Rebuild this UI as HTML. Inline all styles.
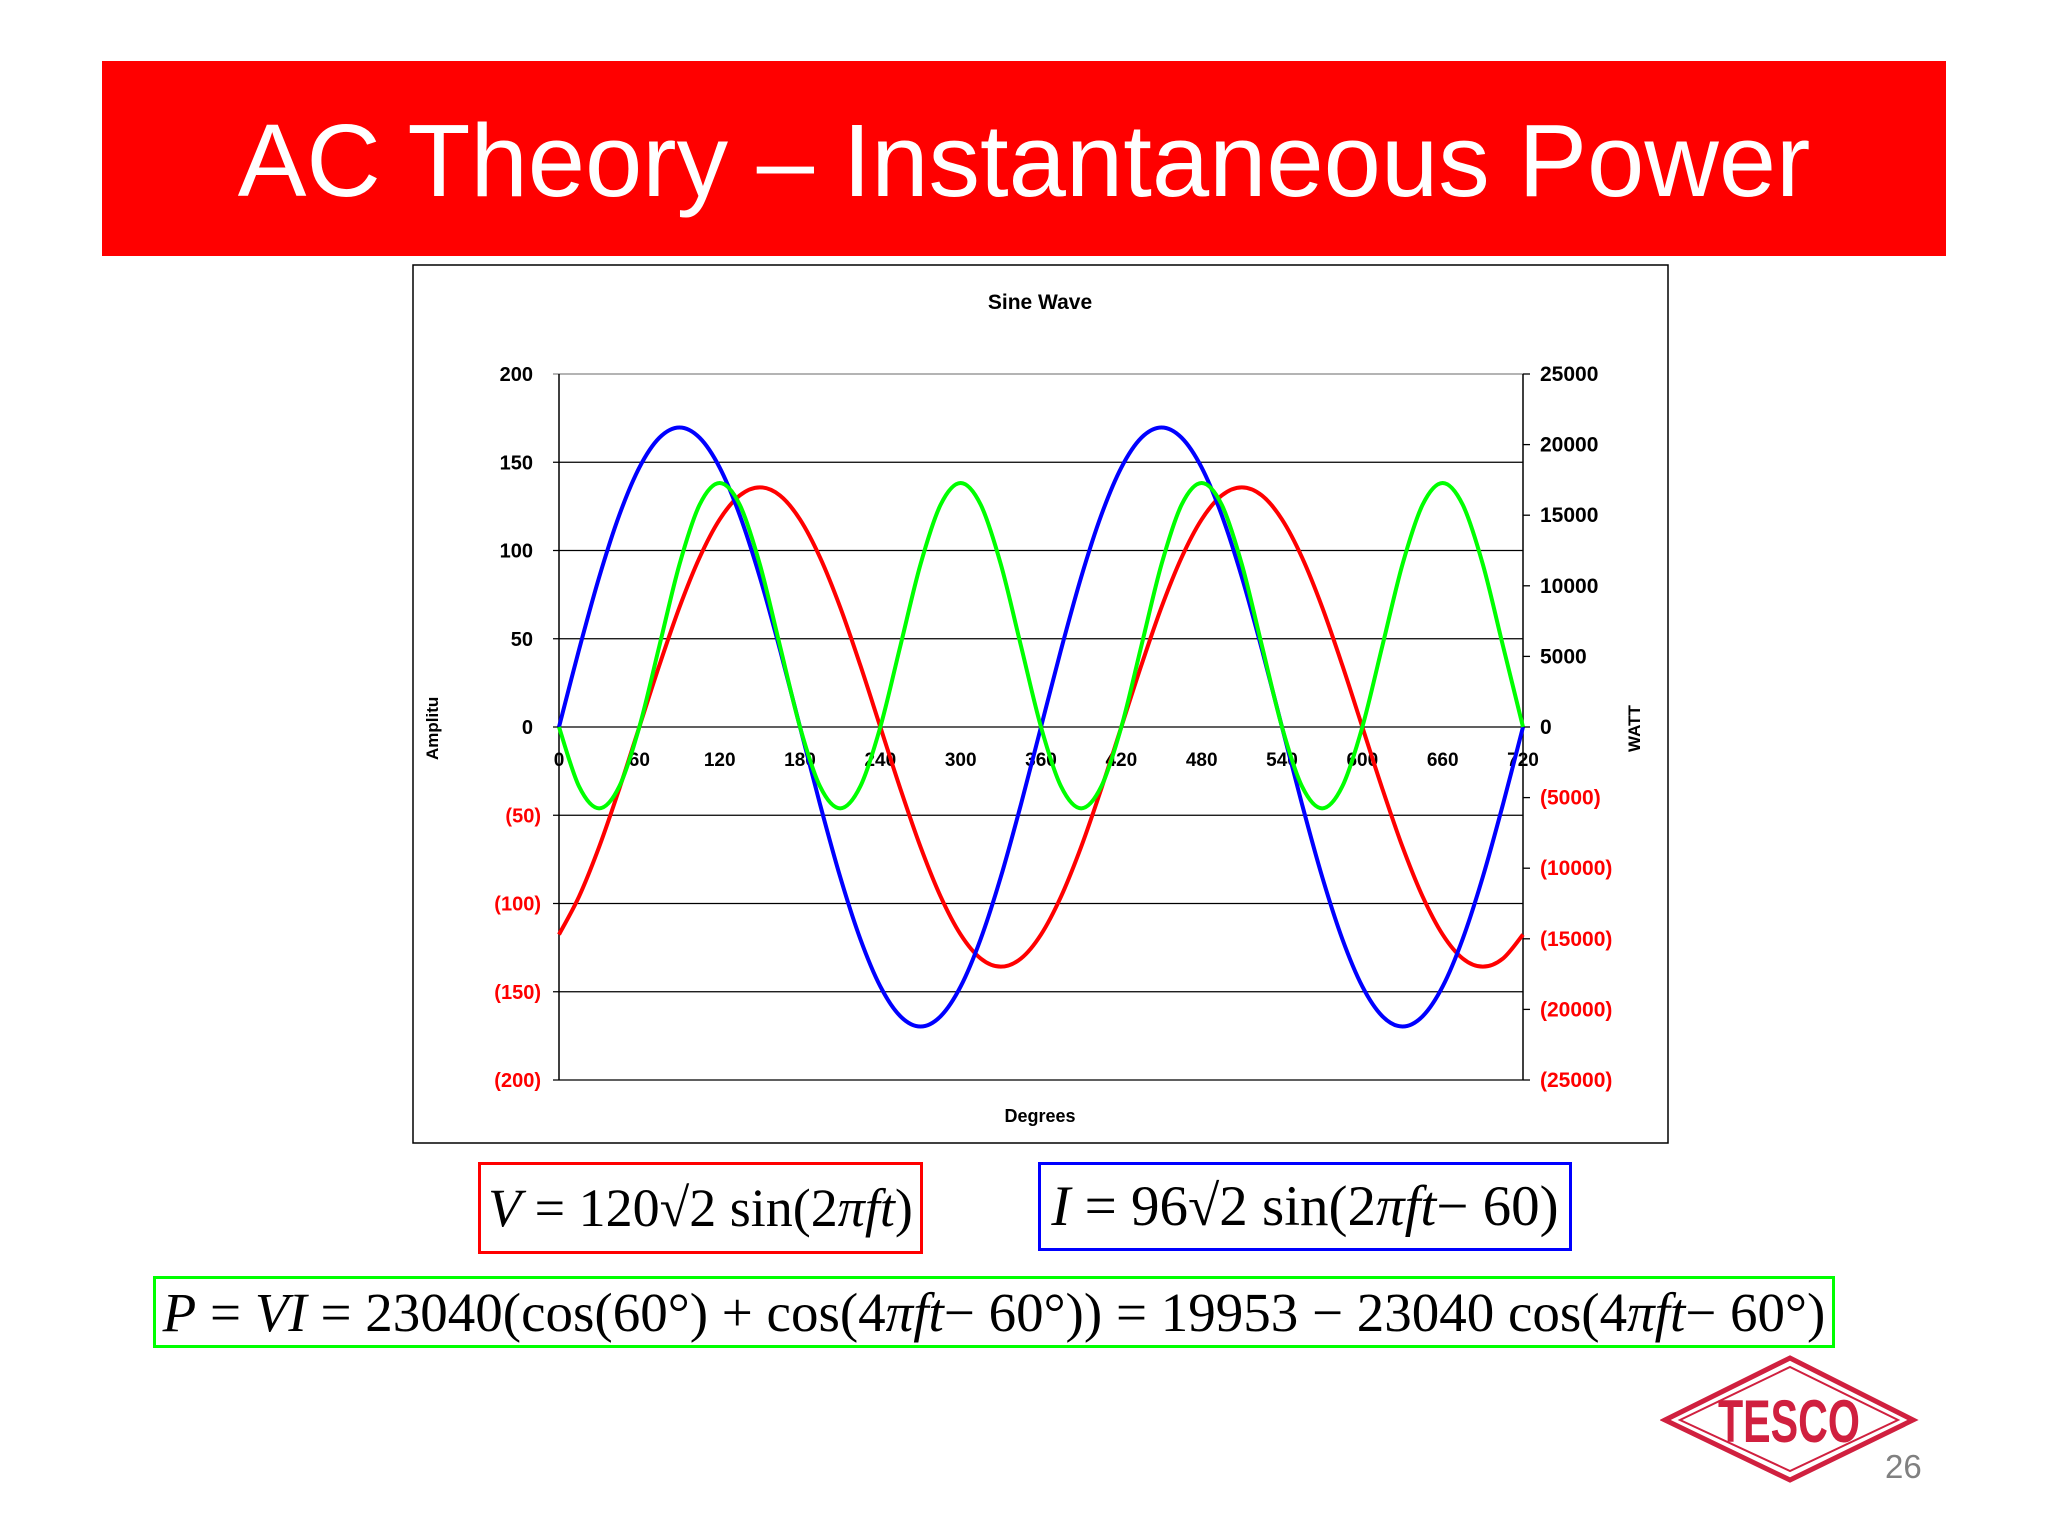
<!DOCTYPE html>
<html><head><meta charset="utf-8"><style>
body{margin:0;width:2048px;height:1536px;background:#fff;position:relative;overflow:hidden;font-family:"Liberation Sans",sans-serif}
.abs{position:absolute}
.eq{position:absolute;font-family:"Liberation Serif",serif;font-size:54px;white-space:nowrap;box-sizing:border-box;display:flex;align-items:center;justify-content:center}
</style></head><body>
<div class="abs" style="left:102px;top:61px;width:1844px;height:195px;background:#ff0000"></div>
<div class="abs" style="left:102px;top:63px;width:1844px;height:195px;line-height:195px;text-align:center;color:#fff;font-size:103px">AC Theory – Instantaneous Power</div>
<svg class="abs" style="left:0;top:0" width="2048" height="1536">
<rect x="413" y="265" width="1255" height="878" fill="#fff" stroke="#000" stroke-width="1.5"/>
<text x="1040" y="309" text-anchor="middle" font-weight="bold" font-size="21">Sine Wave</text>
<g id="grid"></g><g id="axes"></g><g id="series"></g>
<text x="1040" y="1122" text-anchor="middle" font-weight="bold" font-size="18">Degrees</text>
<text transform="translate(438,760) rotate(-90)" font-weight="bold" font-size="17">Amplitu</text>
<text transform="translate(1640,752) rotate(-90)" font-weight="bold" font-size="17">WATT</text>
</svg>
<div class="eq" style="left:478px;top:1162px;width:445px;height:92px;border:3px solid #ff0000"><i>V</i>&nbsp;= 120√2 sin(2<i>πft</i>)</div>
<div class="eq" style="left:1038px;top:1162px;width:534px;height:89px;border:3px solid #0000ff;font-size:57px"><i>I</i>&nbsp;= 96√2 sin(2<i>πft</i> − 60)</div>
<div class="eq" style="left:153px;top:1276px;width:1682px;height:72px;border:3px solid #00ff00;font-size:55px"><i>P</i>&nbsp;=&nbsp;<i>VI</i>&nbsp;= 23040(cos(60°) + cos(4<i>πft</i> − 60°)) = 19953 − 23040 cos(4<i>πft</i> − 60°)</div>
<svg class="abs" style="left:1660px;top:1352px" width="260" height="135">
<polygon points="5,68 130,6 253,68 130,128" fill="none" stroke="#d0203f" stroke-width="5"/>
<polygon points="20,68 130,15 238,68 130,119" fill="none" stroke="#d0203f" stroke-width="2"/>
<text x="58" y="90" font-size="60" font-weight="bold" fill="#d0203f" textLength="142" lengthAdjust="spacingAndGlyphs">TESCO</text>
</svg>
<div class="abs" style="left:1885px;top:1448px;font-size:33px;color:#808080">26</div>
<script>
const degrees=[0,15,30,45,60,75,90,105,120,135,150,165,180,195,210,225,240,255,270,285,300,315,330,345,360,375,390,405,420,435,450,465,480,495,510,525,540,555,570,585,600,615,630,645,660,675,690,705,720];
const voltage=[0,43.9,84.9,120,147,163.9,169.7,163.9,147,120,84.9,43.9,0,-43.9,-84.9,-120,-147,-163.9,-169.7,-163.9,-147,-120,-84.9,-43.9,0,43.9,84.9,120,147,163.9,169.7,163.9,147,120,84.9,43.9,0,-43.9,-84.9,-120,-147,-163.9,-169.7,-163.9,-147,-120,-84.9,-43.9,0];
const current=[-117.6,-96,-67.9,-35.1,0,35.1,67.9,96,117.6,131.2,135.8,131.2,117.6,96,67.9,35.1,0,-35.1,-67.9,-96,-117.6,-131.2,-135.8,-131.2,-117.6,-96,-67.9,-35.1,0,35.1,67.9,96,117.6,131.2,135.8,131.2,117.6,96,67.9,35.1,0,-35.1,-67.9,-96,-117.6,-131.2,-135.8,-131.2,-117.6];
const power=[0,-4217,-5760,-4217,0,5760,11520,15737,17280,15737,11520,5760,0,-4217,-5760,-4217,0,5760,11520,15737,17280,15737,11520,5760,0,-4217,-5760,-4217,0,5760,11520,15737,17280,15737,11520,5760,0,-4217,-5760,-4217,0,5760,11520,15737,17280,15737,11520,5760,0];
const leftTicks=[200,150,100,50,0,-50,-100,-150,-200];
const rightTicks=[25000,20000,15000,10000,5000,0,-5000,-10000,-15000,-20000,-25000];
const xTicks=[0,60,120,180,240,300,360,420,480,540,600,660,720];
const X0=559,X1=1523,Y0=374,Y1=1080;
const xs=d=>X0+(d/720)*(X1-X0);
const yl=v=>Y0+(200-v)/400*(Y1-Y0);
const yr=v=>Y0+(25000-v)/50000*(Y1-Y0);
const NS='http://www.w3.org/2000/svg';
function mk(tag,attrs,parent,txt){const e=document.createElementNS(NS,tag);for(const k in attrs)e.setAttribute(k,attrs[k]);if(txt!==undefined)e.textContent=txt;document.getElementById(parent).appendChild(e);return e;}
const fmt=v=>v<0?'('+(-v)+')':String(v);
leftTicks.forEach(v=>{
  const g=mk('line',{x1:X0-6,x2:X1,y1:yl(v),y2:yl(v),stroke:v===200?'#888':'#000','stroke-width':1.3},'grid');
  
  
  const t=mk('text',{x:v<0?541:533,y:yl(v)+7,'text-anchor':'end','font-weight':'bold','font-size':20,fill:v<0?'#ff0000':'#000'},'axes',fmt(v));
  
  
});
rightTicks.forEach(v=>{
  const l=mk('line',{x1:X1,x2:X1+7,y1:yr(v),y2:yr(v),stroke:'#000','stroke-width':1.3},'axes');
  
  
  const t=mk('text',{x:1540,y:yr(v)+7,'font-weight':'bold','font-size':21,fill:v<0?'#ff0000':'#000'},'axes',fmt(v));
  
  
});
xTicks.forEach(d=>{
  const t=mk('text',{x:xs(d),y:766,'text-anchor':'middle','font-weight':'bold','font-size':19},'axes',String(d));
  
  
});
const la=mk('line',{x1:X0,x2:X0,y1:Y0,y2:Y1,stroke:'#000','stroke-width':1.5},'axes');


const ra=mk('line',{x1:X1,x2:X1,y1:Y0,y2:Y1,stroke:'#000','stroke-width':1.5},'axes');


function smooth(pts){let d='M'+pts[0][0]+','+pts[0][1];for(let i=0;i<pts.length-1;i++){const p0=pts[i-1]||pts[i],p1=pts[i],p2=pts[i+1],p3=pts[i+2]||p2;d+=' C'+(p1[0]+(p2[0]-p0[0])/6)+','+(p1[1]+(p2[1]-p0[1])/6)+' '+(p2[0]-(p3[0]-p1[0])/6)+','+(p2[1]-(p3[1]-p1[1])/6)+' '+p2[0]+','+p2[1];}return d;}
const cur=mk('path',{d:smooth(degrees.map((d,i)=>[xs(d),yl(current[i])])),fill:'none',stroke:'#ff0000','stroke-width':4},'series');


const vol=mk('path',{d:smooth(degrees.map((d,i)=>[xs(d),yl(voltage[i])])),fill:'none',stroke:'#0000ff','stroke-width':4},'series');


const pw=mk('path',{d:smooth(degrees.map((d,i)=>[xs(d),yr(power[i])])),fill:'none',stroke:'#00ff00','stroke-width':4},'series');


</script>
</body></html>
